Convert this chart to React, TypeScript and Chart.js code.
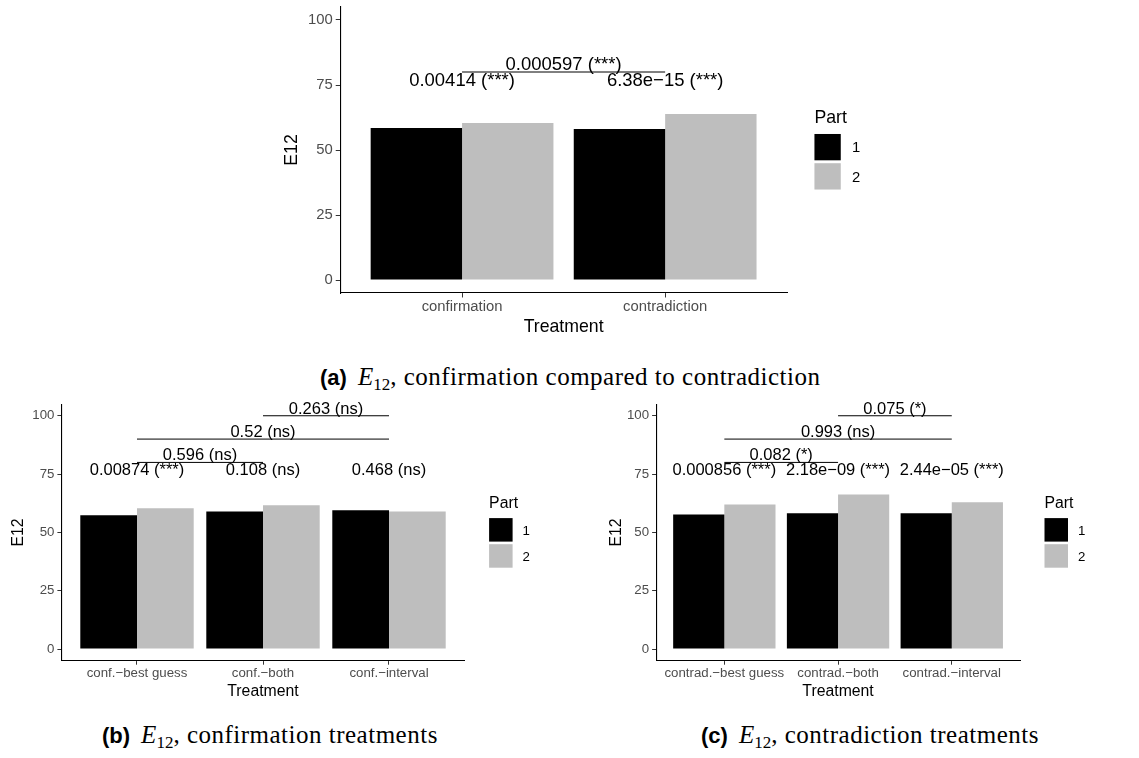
import React, { useEffect, useRef } from 'react';
import { Chart, registerables } from 'chart.js';

Chart.register(...registerables);

const SANS = '"Liberation Sans", Arial, Helvetica, sans-serif';
const SERIF = '"Liberation Serif", "Times New Roman", serif';

// ---------------- data ----------------
const partNames = ['1', '2'];
const partColors = ['#000000', '#BEBEBE'];
const yTicks = [0, 25, 50, 75, 100];
const yMin = -5;
const yMax = 105;
const withinY = 77;

const catsA = ['confirmation', 'contradiction'];
const part1A = [58.5, 58.1];
const part2A = [60.4, 63.8];
const withinA = ['0.00414 (***)', '6.38e\u221215 (***)'];
const bracketsA = [{ from: 1, to: 2, y: 80, label: '0.000597 (***)' }];

const catsB = ['conf.\u2212best guess', 'conf.\u2212both', 'conf.\u2212interval'];
const part1B = [57.3, 59.0, 59.5];
const part2B = [60.3, 61.6, 59.0];
const withinB = ['0.00874 (***)', '0.108 (ns)', '0.468 (ns)'];
const bracketsB = [
  { from: 1, to: 2, y: 80, label: '0.596 (ns)' },
  { from: 1, to: 3, y: 90, label: '0.52 (ns)' },
  { from: 2, to: 3, y: 100, label: '0.263 (ns)' },
];

const catsC = ['contrad.\u2212best guess', 'contrad.\u2212both', 'contrad.\u2212interval'];
const part1C = [57.7, 58.2, 58.2];
const part2C = [62.0, 66.2, 62.9];
const withinC = ['0.000856 (***)', '2.18e\u221209 (***)', '2.44e\u221205 (***)'];
const bracketsC = [
  { from: 1, to: 2, y: 80, label: '0.082 (*)' },
  { from: 1, to: 3, y: 90, label: '0.993 (ns)' },
  { from: 2, to: 3, y: 100, label: '0.075 (*)' },
];

// ---------------- layout ----------------
const geomA = { left: 282, top: 0, w: 598, h: 338, yw: 58.2, xh: 44.3, pad: { left: 0, right: 93, top: 7, bottom: 0.7 }, s: 1.12 };
const geomB = { left: 9, top: 396, w: 531, h: 306, yw: 52.4, xh: 40.5, pad: { left: 0, right: 75.4, top: 8.1, bottom: 0.8 }, s: 1 };
const geomC = { left: 607, top: 396, w: 493, h: 306, yw: 49.1, xh: 40.5, pad: { left: 0, right: 80, top: 8.1, bottom: 0.8 }, s: 1 };

function Panel({ cats, p1, p2, within, brackets, g }: any) {
  const ref = useRef<HTMLCanvasElement>(null);
  useEffect(() => {
    const s = g.s;
    const overlay = {
      id: 'overlay',
      afterDatasetsDraw(chart: any) {
        const { ctx, chartArea } = chart;
        const xs = chart.scales.x;
        const ys = chart.scales.y;
        ctx.save();
        const fs = 16.5 * s;
        ctx.font = `${fs}px ${SANS}`;
        ctx.fillStyle = '#000';
        ctx.textAlign = 'center';
        ctx.textBaseline = 'alphabetic';
        within.forEach((t: string, i: number) => {
          ctx.fillText(t, xs.getPixelForValue(i + 1), ys.getPixelForValue(withinY) + 0.358 * fs);
        });
        ctx.strokeStyle = '#000';
        ctx.lineWidth = 1;
        brackets.forEach((b: any) => {
          const x1 = xs.getPixelForValue(b.from);
          const x2 = xs.getPixelForValue(b.to);
          const y = ys.getPixelForValue(b.y);
          ctx.beginPath();
          ctx.moveTo(x1, y);
          ctx.lineTo(x2, y);
          ctx.stroke();
          ctx.fillText(b.label, (x1 + x2) / 2, y - 2 * s);
        });
        // legend
        const key = 23.5 * s;
        const gap = 2.6 * s;
        const head = 21 * s;
        const lx = chartArea.right + 24.5 * s;
        const top = (chartArea.top + chartArea.bottom) / 2 - (head + 2 * key + gap) / 2;
        const tfs = 15.8 * s;
        ctx.textAlign = 'left';
        ctx.font = `${tfs}px ${SANS}`;
        ctx.fillText('Part', lx, top + 0.716 * tfs);
        const lfs = 13.25 * s;
        ctx.font = `${lfs}px ${SANS}`;
        partNames.forEach((n, i) => {
          const ky = top + head + i * (key + gap);
          ctx.fillStyle = partColors[i];
          ctx.fillRect(lx, ky, key, key);
          ctx.fillStyle = '#000';
          ctx.fillText(n, lx + key + 10 * s, ky + key / 2 + 0.358 * lfs);
        });
        ctx.restore();
      },
    };

    const gridOpts = {
      display: true,
      drawOnChartArea: false,
      drawTicks: true,
      tickLength: 4 * s,
      tickColor: '#333333',
      tickWidth: 1,
      offset: false,
    };
    const borderOpts = { display: true, color: '#000000', width: 1.1 };

    const chart = new Chart(ref.current as HTMLCanvasElement, {
      type: 'bar',
      data: {
        datasets: [
          {
            label: partNames[0],
            data: cats.map((_: string, i: number) => ({ x: i + 1, y: p1[i] })),
            backgroundColor: partColors[0],
            borderWidth: 0,
          },
          {
            label: partNames[1],
            data: cats.map((_: string, i: number) => ({ x: i + 1, y: p2[i] })),
            backgroundColor: partColors[1],
            borderWidth: 0,
          },
        ],
      },
      options: {
        responsive: false,
        animation: false,
        layout: { padding: g.pad },
        datasets: { bar: { categoryPercentage: 0.9, barPercentage: 1, grouped: true } },
        plugins: { legend: { display: false }, tooltip: { enabled: false } },
        scales: {
          x: {
            type: 'linear',
            min: 0.4,
            max: cats.length + 0.6,
            offset: false,
            afterBuildTicks: (ax: any) => {
              ax.ticks = cats.map((_: string, i: number) => ({ value: i + 1 }));
            },
            afterFit: (ax: any) => {
              ax.height = g.xh;
              ax.paddingLeft = 0;
              ax.paddingRight = 0;
            },
            grid: gridOpts,
            border: borderOpts,
            ticks: {
              callback: (v: any) => cats[Math.round(Number(v)) - 1] ?? '',
              font: { family: SANS, size: 13.25 * s },
              color: '#4D4D4D',
              padding: 1,
              maxRotation: 0,
              autoSkip: false,
            },
            title: {
              display: true,
              text: 'Treatment',
              font: { family: SANS, size: 15.8 * s },
              color: '#000000',
              padding: 0,
            },
          },
          y: {
            type: 'linear',
            min: yMin,
            max: yMax,
            afterBuildTicks: (ax: any) => {
              ax.ticks = yTicks.map((v) => ({ value: v }));
            },
            afterFit: (ax: any) => {
              ax.width = g.yw;
              ax.paddingTop = 0;
              ax.paddingBottom = 0;
            },
            grid: gridOpts,
            border: borderOpts,
            ticks: {
              font: { family: SANS, size: 13.25 * s },
              color: '#4D4D4D',
              padding: 3,
            },
            title: {
              display: true,
              text: 'E12',
              font: { family: SANS, size: 15.8 * s },
              color: '#000000',
              padding: 0,
            },
          },
        },
      } as any,
      plugins: [overlay],
    });
    return () => chart.destroy();
  }, []);
  return (
    <canvas
      ref={ref}
      width={g.w}
      height={g.h}
      style={{ position: 'absolute', left: g.left, top: g.top, width: g.w, height: g.h }}
    />
  );
}

function Caption({ left, top, tag, text }: any) {
  return (
    <div
      style={{
        position: 'absolute',
        left,
        top,
        whiteSpace: 'nowrap',
        lineHeight: '24px',
        fontFamily: SERIF,
        fontSize: 25,
        color: '#000',
      }}
    >
      <span style={{ fontFamily: SANS, fontWeight: 700, fontSize: 22, marginRight: 11 }}>{tag}</span>
      <span style={{ fontStyle: 'italic' }}>E</span>
      <span style={{ fontSize: 17, position: 'relative', top: 5 }}>12</span>
      <span style={{ letterSpacing: '0.5px' }}>{', ' + text}</span>
    </div>
  );
}

export default function App() {
  return (
    <div style={{ position: 'absolute', left: 0, top: 0, width: 1139, height: 758, background: '#fff', overflow: 'hidden' }}>
      <Panel cats={catsA} p1={part1A} p2={part2A} within={withinA} brackets={bracketsA} g={geomA} />
      <Panel cats={catsB} p1={part1B} p2={part2B} within={withinB} brackets={bracketsB} g={geomB} />
      <Panel cats={catsC} p1={part1C} p2={part2C} within={withinC} brackets={bracketsC} g={geomC} />
      <Caption left={320} top={364.6} tag="(a)" text="confirmation compared to contradiction" />
      <Caption left={102} top={723.3} tag="(b)" text="confirmation treatments" />
      <Caption left={701} top={723.3} tag="(c)" text="contradiction treatments" />
    </div>
  );
}
